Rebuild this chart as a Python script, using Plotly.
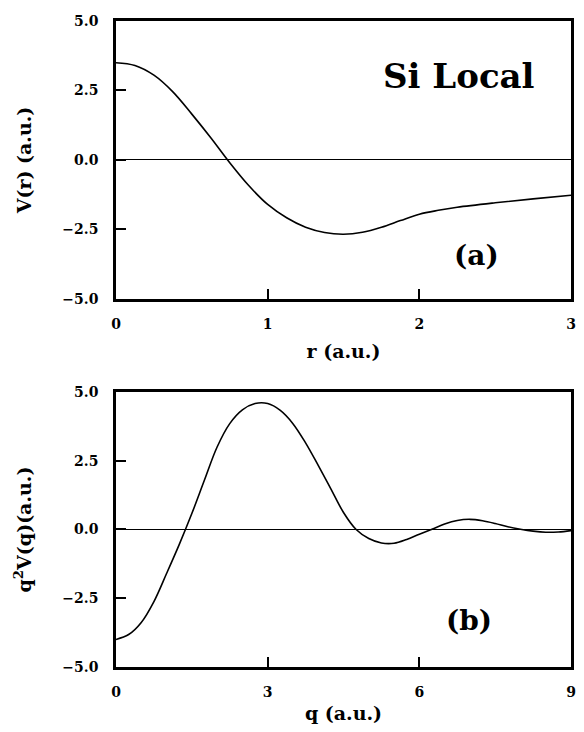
import plotly.graph_objects as go
from plotly.subplots import make_subplots

# Panel (a): local pseudopotential in real space
r_vals = [0, 0.125, 0.25, 0.375, 0.5, 0.625, 0.75, 0.875, 1.0, 1.125, 1.25, 1.375,
          1.5, 1.625, 1.75, 1.875, 2.0, 2.125, 2.25, 2.5, 2.75, 3.0]
V_r = [3.5, 3.40, 3.05, 2.45, 1.65, 0.8, -0.1, -0.92, -1.6, -2.08, -2.42, -2.61,
       -2.67, -2.6, -2.42, -2.18, -1.95, -1.81, -1.70, -1.54, -1.40, -1.27]

# Panel (b): q^2 V(q) in reciprocal space
q_vals = [0, 0.25, 0.5, 0.75, 1.0, 1.25, 1.5, 1.75, 2.0, 2.25, 2.5, 2.75, 3.0,
          3.25, 3.5, 3.75, 4.0, 4.25, 4.5, 4.75, 5.0, 5.25, 5.5, 5.75, 6.0, 6.25,
          6.5, 6.75, 7.0, 7.25, 7.5, 7.75, 8.0, 8.25, 8.5, 8.75, 9.0]
q2V_q = [-4.0, -3.82, -3.38, -2.62, -1.6, -0.55, 0.58, 1.8, 3.0, 3.85, 4.35,
         4.58, 4.58, 4.33, 3.85, 3.15, 2.33, 1.48, 0.62, 0.0, -0.33, -0.49, -0.5,
         -0.36, -0.17, 0.01, 0.2, 0.33, 0.37, 0.32, 0.22, 0.1, 0.01, -0.06, -0.1,
         -0.09, -0.04]

y_ticks = [-5.0, -2.5, 0.0, 2.5, 5.0]
y_ticklabels = ["−5.0", "−2.5", "0.0", "2.5", "5.0"]
r_ticks = [0, 1, 2, 3]
q_ticks = [0, 3, 6, 9]

FONT = "DejaVu Serif"

fig = make_subplots(rows=2, cols=1, vertical_spacing=0.14)

fig.add_trace(go.Scatter(x=r_vals, y=V_r, mode="lines",
                         line=dict(color="black", width=1.6, shape="spline", smoothing=1.0),
                         showlegend=False, hoverinfo="skip"), row=1, col=1)
fig.add_trace(go.Scatter(x=q_vals, y=q2V_q, mode="lines",
                         line=dict(color="black", width=1.6, shape="spline", smoothing=1.0),
                         showlegend=False, hoverinfo="skip"), row=2, col=1)

axis_common = dict(showline=True, linecolor="black", linewidth=2.5, mirror=True,
                   ticks="inside", ticklen=10, tickwidth=1.5, tickcolor="black",
                   showgrid=False, automargin=False,
                   tickfont=dict(family=FONT, size=14, color="black", weight="bold"))

fig.update_xaxes(**axis_common)
fig.update_yaxes(**axis_common)

title_font = dict(family=FONT, size=19, color="black", weight="bold")

fig.update_xaxes(range=[0, 3], tickvals=r_ticks, ticktext=[str(t) for t in r_ticks],
                 zeroline=False, ticklabelstandoff=10, ticklabeloverflow="allow",
                 title=dict(text="r (a.u.)", standoff=15, font=title_font),
                 row=1, col=1)
fig.update_xaxes(range=[0, 9], tickvals=q_ticks, ticktext=[str(t) for t in q_ticks],
                 zeroline=False, ticklabelstandoff=10, ticklabeloverflow="allow",
                 title=dict(text="q (a.u.)", standoff=10, font=title_font),
                 row=2, col=1)
fig.update_yaxes(range=[-5, 5], tickvals=y_ticks, ticktext=y_ticklabels,
                 zeroline=True, zerolinecolor="black", zerolinewidth=1.4,
                 ticklabelstandoff=12,
                 title=dict(text="V(r) (a.u.)", standoff=26, font=title_font),
                 row=1, col=1)
fig.update_yaxes(range=[-5, 5], tickvals=y_ticks, ticktext=y_ticklabels,
                 zeroline=True, zerolinecolor="black", zerolinewidth=1.4,
                 ticklabelstandoff=12,
                 title=dict(text="q<sup>2</sup>V(q)(a.u.)", standoff=26, font=title_font),
                 row=2, col=1)

fig.update_layout(xaxis=dict(domain=[0, 1]), yaxis=dict(domain=[0.5697, 1.0]),
                  xaxis2=dict(domain=[0, 1]), yaxis2=dict(domain=[0.0, 0.4257]))

fig.add_annotation(x=2.26, y=3.02, xref="x", yref="y", text="Si Local", showarrow=False,
                   font=dict(family=FONT, size=34, color="black", weight="bold"))
fig.add_annotation(x=2.38, y=-3.42, xref="x", yref="y", text="(a)", showarrow=False,
                   font=dict(family=FONT, size=28, color="black", weight="bold"))
fig.add_annotation(x=6.98, y=-3.3, xref="x2", yref="y2", text="(b)", showarrow=False,
                   font=dict(family=FONT, size=28, color="black", weight="bold"))

# The page body adds an 8px margin on every side, so the figure is sized to fit inside it.
fig.update_layout(width=568, height=716, paper_bgcolor="white", plot_bgcolor="white",
                  margin=dict(l=108, r=5, t=13, b=57), showlegend=False)

fig.write_html("out.html")
